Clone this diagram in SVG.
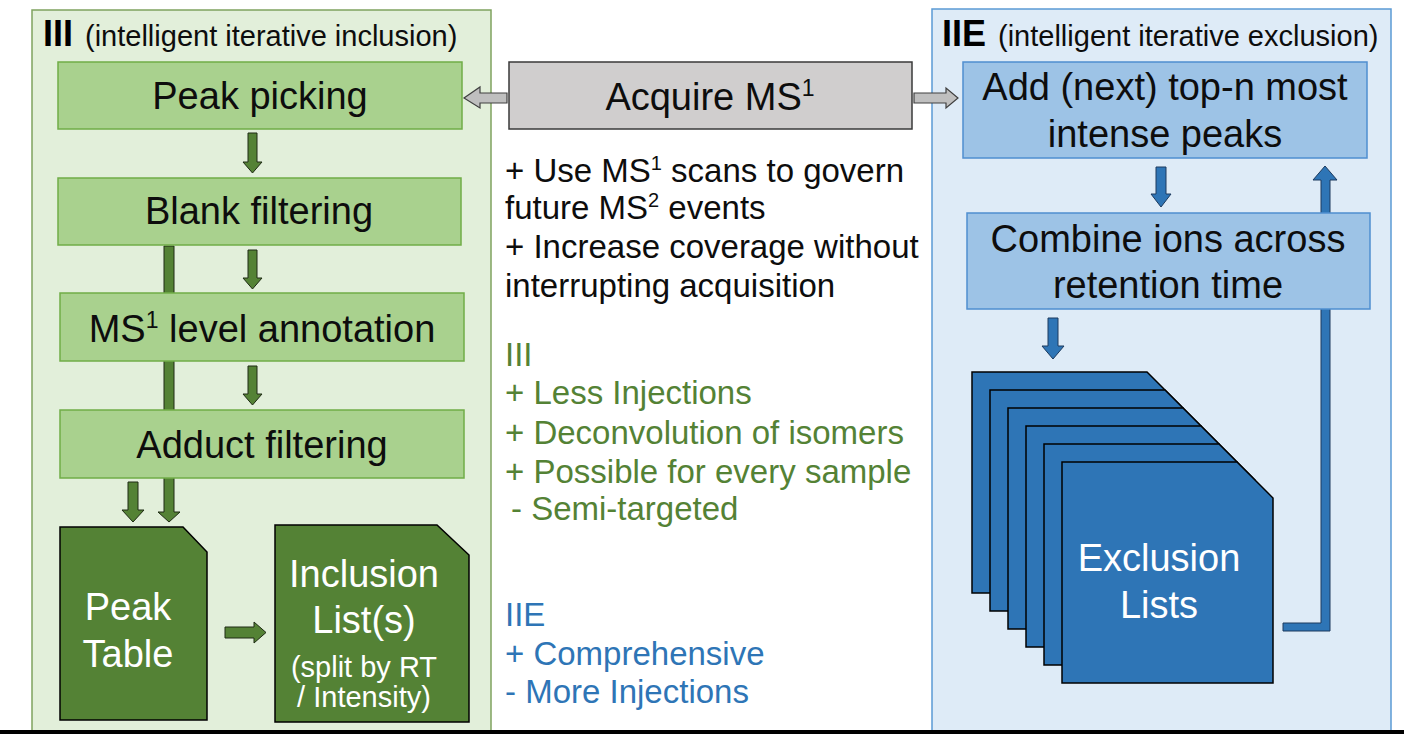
<svg xmlns="http://www.w3.org/2000/svg" width="1404" height="734" viewBox="0 0 1404 734">
<style>
text{font-family:"Liberation Sans",Arial,sans-serif;}
.big{font-size:38px;fill:#0d0d0d;text-anchor:middle;}
.wbig{font-size:38px;fill:#ffffff;text-anchor:middle;}
.mid{font-size:33px;fill:#0d0d0d;}
.gmid{font-size:33px;fill:#548235;}
.bmid{font-size:33px;fill:#2e75b6;}
.ttl{font-size:36px;font-weight:bold;fill:#000;}
.sub{font-size:29px;fill:#0d0d0d;}
.gbox{fill:#a9d18e;stroke:#70ad47;stroke-width:1.5;}
.bbox{fill:#9dc3e6;stroke:#4f8fd0;stroke-width:1.5;}
.garr{fill:#548235;stroke:#1e2a14;stroke-width:1;}
.barr{fill:#2e75b6;stroke:#1c3a5e;stroke-width:1;}
.grarr{fill:#bfbfbf;stroke:#404040;stroke-width:1.2;}
.gdoc{fill:#548235;stroke:#000;stroke-width:1.5;}
.bdoc{fill:#2e75b6;stroke:#000;stroke-width:1.5;}
</style>
<rect x="0" y="0" width="1404" height="734" fill="#ffffff"/>
<g id="panel-iii">
<rect x="32" y="10" width="459" height="722" fill="#e2efda" stroke="#7fa35f" stroke-width="1.5"/>
<text x="43" y="46"><tspan class="ttl">III</tspan><tspan class="sub" dx="12">(intelligent iterative inclusion)</tspan></text>
</g>
<g id="panel-iie">
<rect x="932" y="9" width="459" height="723" fill="#deebf7" stroke="#5b9bd5" stroke-width="1.5"/>
<text x="942" y="46"><tspan class="ttl">IIE</tspan><tspan class="sub" dx="12">(intelligent iterative exclusion)</tspan></text>
</g>
<g id="connectors">
<path class="garr" d="M164,246 H174 V512 H180 L169,522 L158,512 H164 Z"/>
<path class="barr" d="M1283,623 H1321 V180 H1313 L1325,166 L1337,180 H1330 V631 H1283 Z"/>
</g>
<g id="node-peak-picking">
<rect class="gbox" x="58" y="62" width="404" height="67"/>
<text class="big" x="260" y="109">Peak picking</text>
</g>
<g id="node-blank-filtering">
<rect class="gbox" x="58" y="178" width="403" height="67"/>
<text class="big" x="259" y="224">Blank filtering</text>
</g>
<g id="node-ms1-annotation">
<rect class="gbox" x="60" y="293" width="404" height="68"/>
<text class="big" x="262" y="342">MS<tspan font-size="23" dy="-14">1</tspan><tspan dy="14"> level annotation</tspan></text>
</g>
<g id="node-adduct-filtering">
<rect class="gbox" x="60" y="410" width="404" height="68"/>
<text class="big" x="262" y="458">Adduct filtering</text>
</g>
<g id="node-peak-table">
<path class="gdoc" d="M60,527 H183 L207,552 V720 H60 Z"/>
<text class="wbig" x="128" y="620">Peak</text>
<text class="wbig" x="128" y="667">Table</text>
</g>
<g id="node-inclusion-lists">
<path class="gdoc" d="M275,525 H437 L469,555 V722 H275 Z"/>
<text class="wbig" x="364" y="587">Inclusion</text>
<text class="wbig" x="364" y="633">List(s)</text>
<text x="364" y="677" style="font-size:29px;fill:#fff;text-anchor:middle">(split by RT</text>
<text x="364" y="707" style="font-size:29px;fill:#fff;text-anchor:middle">/ Intensity)</text>
</g>
<g id="node-acquire-ms1">
<rect x="509" y="62" width="403" height="67" fill="#d0cece" stroke="#3a3a3a" stroke-width="1.5"/>
<text class="big" x="710" y="110">Acquire MS<tspan font-size="23" dy="-14">1</tspan></text>
</g>
<g id="node-add-topn">
<rect class="bbox" x="963" y="62" width="404" height="96"/>
<text class="big" x="1165" y="100">Add (next) top-n most</text>
<text class="big" x="1165" y="147">intense peaks</text>
</g>
<g id="node-combine">
<rect class="bbox" x="967" y="213" width="403" height="96"/>
<text class="big" x="1168" y="252">Combine ions across</text>
<text class="big" x="1168" y="298">retention time</text>
</g>
<g id="node-exclusion-lists">
<path class="bdoc" d="M972,372 H1147 L1183,408 V593 H972 Z"/>
<path class="bdoc" d="M990,390 H1165 L1201,426 V611 H990 Z"/>
<path class="bdoc" d="M1008,408 H1183 L1219,444 V629 H1008 Z"/>
<path class="bdoc" d="M1026,426 H1201 L1237,462 V647 H1026 Z"/>
<path class="bdoc" d="M1044,444 H1219 L1255,480 V665 H1044 Z"/>
<path class="bdoc" d="M1062,462 H1237 L1273,498 V683 H1062 Z"/>
<text class="wbig" x="1159" y="571">Exclusion</text>
<text class="wbig" x="1159" y="618">Lists</text>
</g>
<g id="connectors-arrows">
<path class="garr" d="M248,133 H257 V162 H262 L252.5,173 L243,162 H248 Z"/>
<path class="garr" d="M248,250 H257 V278 H262 L252.5,289 L243,278 H248 Z"/>
<path class="garr" d="M248,366 H257 V394 H262 L252.5,405 L243,394 H248 Z"/>
<path class="garr" d="M128,482 H138 V510 H144 L133,522 L122,510 H128 Z"/>
<path class="garr" d="M225,627 H254 V622 L266,632.5 L254,643 V638 H225 Z"/>
<path class="grarr" d="M507,93 H480 V87 L464,98 L480,108 V103 H507 Z"/>
<path class="grarr" d="M914,93 H946 V88 L958,98 L946,108 V103 H914 Z"/>
<path class="barr" d="M1156,167 H1166 V194 H1171 L1161,207 L1151,194 H1156 Z"/>
<path class="barr" d="M1048,318 H1058 V346 H1064 L1053,359 L1042,346 H1048 Z"/>
</g>
<g id="notes">
<text class="mid" x="505" y="182">+ Use MS<tspan font-size="20" dy="-12">1</tspan><tspan dy="12"> scans to govern</tspan></text>
<text class="mid" x="505" y="219">future MS<tspan font-size="20" dy="-12">2</tspan><tspan dy="12"> events</tspan></text>
<text class="mid" x="505" y="258">+ Increase coverage without</text>
<text class="mid" x="505" y="297">interrupting acquisition</text>
<text class="gmid" x="505" y="366">III</text>
<text class="gmid" x="505" y="404">+ Less Injections</text>
<text class="gmid" x="505" y="444">+ Deconvolution of isomers</text>
<text class="gmid" x="505" y="483">+ Possible for every sample</text>
<text class="gmid" x="511" y="520">- Semi-targeted</text>
<text class="bmid" x="505" y="626">IIE</text>
<text class="bmid" x="505" y="665">+ Comprehensive</text>
<text class="bmid" x="505" y="703">- More Injections</text>
</g>
<rect x="0" y="730" width="1404" height="4" fill="#000"/>
</svg>
